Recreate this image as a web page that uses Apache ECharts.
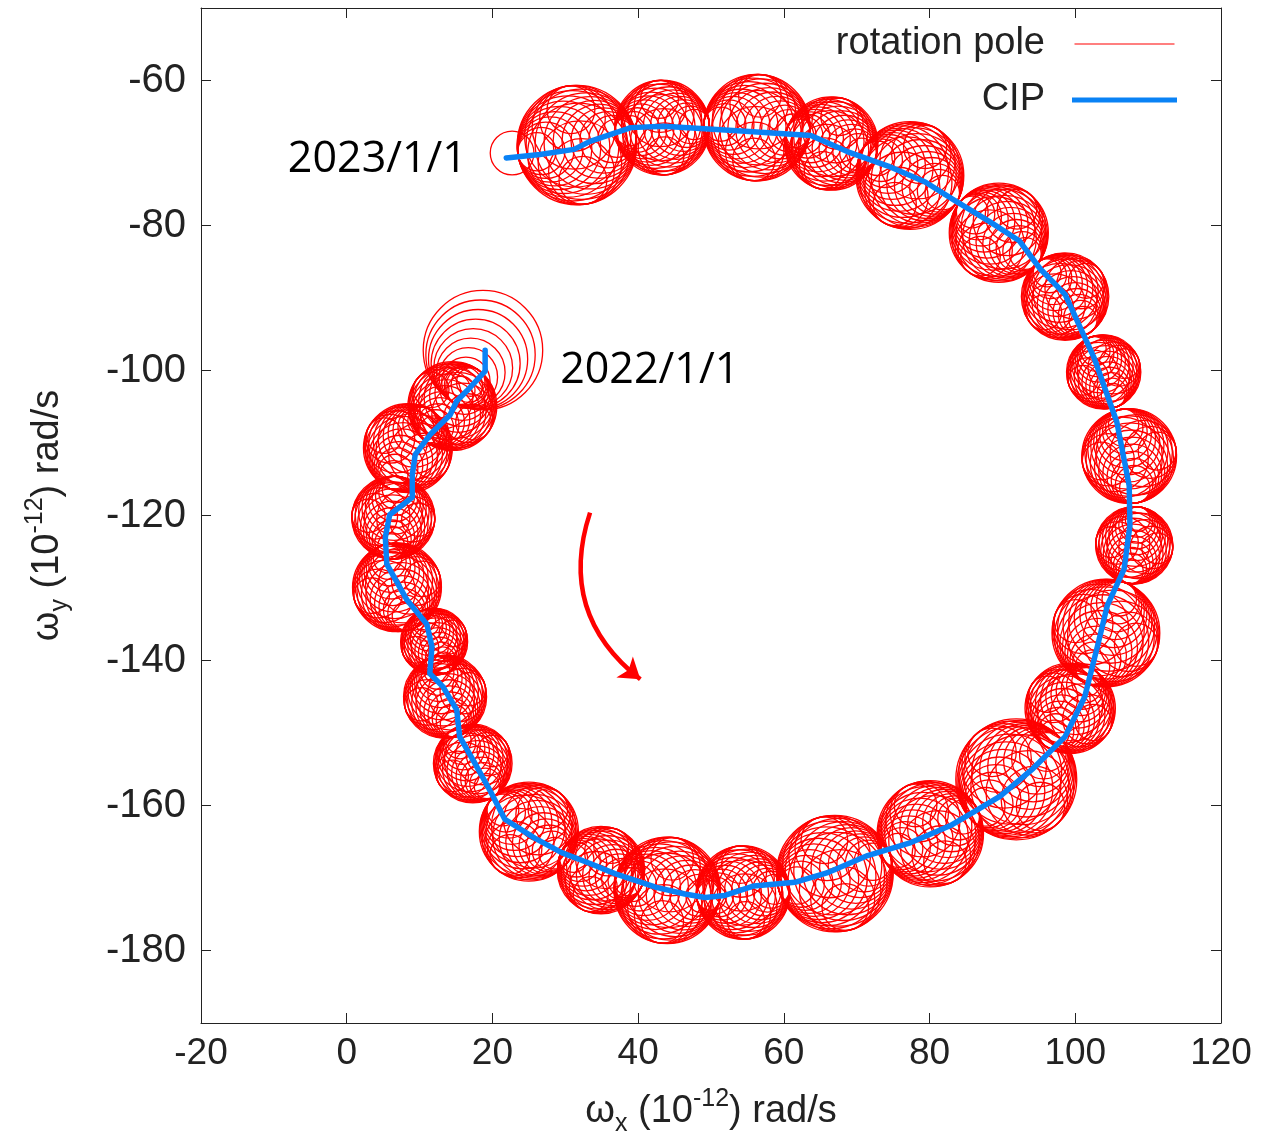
<!DOCTYPE html>
<html>
<head>
<meta charset="utf-8">
<script src="https://cdn.jsdelivr.net/npm/echarts@6/dist/echarts.min.js"></script>
<style>
  html, body { margin: 0; padding: 0; background: #ffffff; }
  #chart { width: 1282px; height: 1142px; }
</style>
</head>
<body>
<div id="chart"></div>
<script>
// Tick values
const xTicks = [-20, 0, 20, 40, 60, 80, 100, 120];
const yTicks = [-180, -160, -140, -120, -100, -80, -60];

// CIP track (10^-12 rad/s), 2022/1/1 -> 2023/1/1
const cipX = [19.0, 19.0, 16.5, 15.1, 14.2, 11.4, 9.4, 9.0, 9.0, 5.9, 5.3, 5.5, 8.3, 11.0, 11.7, 11.4,
  13.2, 15.1, 15.5, 17.6, 19.7, 21.7, 25.8, 29.5, 33.4, 36.8, 42.5, 46.4, 49.2, 51.9, 55.9, 61.5,
  65.9, 71.5, 77.2, 82.8, 86.2, 89.7, 94.2, 98.6, 101.3, 103.1, 104.4, 106.7, 107.5, 107.4, 105.7,
  102.6, 98.6, 95.2, 92.3, 88.3, 83.2, 79.4, 74.3, 68.7, 63.7, 54.7, 43.5, 39.0, 33.4, 31.2, 26.5, 21.9];
const cipY = [-97.2, -100.1, -102.8, -104.2, -106.1, -108.9, -111.6, -114.4, -117.5, -119.9, -123.0,
  -126.7, -131.7, -135.0, -138.1, -141.8, -143.6, -146.8, -150.5, -154.2, -158.0, -161.9, -164.5,
  -166.5, -168.0, -169.4, -171.3, -172.2, -172.7, -172.4, -171.1, -170.6, -169.3, -166.9, -165.2,
  -162.8, -160.8, -158.7, -154.9, -150.5, -145.0, -137.8, -132.4, -127.4, -121.4, -115.9, -107.1,
  -98.3, -89.5, -86.0, -82.1, -79.5, -76.4, -74.0, -71.8, -69.8, -67.6, -67.0, -66.3, -66.5, -68.4,
  -69.5, -70.2, -70.7];

// Rotation pole: envelopes of the diurnal loops (centre x, centre y, radius)
const loopX = [18.7, 14.5, 8.4, 6.4, 6.9, 12.0, 13.5, 17.3, 25.0, 34.9, 44.0, 54.4, 67.0, 80.1, 91.9,
  99.3, 104.2, 108.1, 107.4, 103.9, 98.6, 89.5, 77.3, 66.5, 56.3, 43.3, 31.6, 22.7];
const loopY = [-97.2, -104.9, -110.7, -120.3, -129.9, -137.4, -145.0, -154.2, -163.6, -168.9, -171.7,
  -172.0, -169.4, -163.9, -156.4, -146.6, -136.2, -124.1, -111.8, -100.2, -89.8, -81.0, -73.1, -68.7,
  -66.5, -66.5, -68.9, -70.0];
const loopR = [8.2, 6.1, 6.1, 5.7, 6.1, 4.6, 5.7, 5.4, 6.8, 6.0, 7.3, 6.4, 8.0, 7.3, 8.3, 6.2, 7.4,
  5.3, 6.5, 5.1, 6.0, 6.8, 7.4, 6.4, 7.3, 6.5, 8.2, 3.0];

// Date annotations and rotation-sense arrow
const dateLabels = ['2023/1/1', '2022/1/1'];
const dateAnchors = [[16.5, -70.9], [29.3, -100.0]];
const arrowPath = [[33.4, -119.6], [40.3, -142.6]];

const RED = '#ff0000';
const BLUE = '#0a82f5';
const AXIS = '#222222';
const FONT = '"Liberation Sans", Arial, Helvetica, sans-serif';
const DATE_FONT = '"Open Sans", "Noto Sans", sans-serif';

const cipData = cipX.map((x, i) => [x, cipY[i]]);
const loopData = loopX.map((x, i) => [x, loopY[i], loopR[i]]);

// Each loop envelope is drawn as a bundle of thin circles tangent to it
function renderLoops(params, api) {
  const i = params.dataIndex;
  const n = loopX.length;
  const c = api.coord([api.value(0), api.value(1)]);
  const R = api.size([api.value(2), 0])[0];
  const a = api.coord([loopX[Math.max(0, i - 1)], loopY[Math.max(0, i - 1)]]);
  const b = api.coord([loopX[Math.min(n - 1, i + 1)], loopY[Math.min(n - 1, i + 1)]]);
  let ux = b[0] - a[0], uy = b[1] - a[1];
  const len = Math.hypot(ux, uy) || 1;
  ux /= len; uy /= len;
  const vx = -uy, vy = ux;
  const style = { fill: 'none', stroke: RED, lineWidth: 1.3 };
  const rings = [];
  const ring = (ox, oy, r) => rings.push({
    type: 'circle', shape: { cx: c[0] + ox, cy: c[1] + oy, r: Math.max(r, 0.5) }, style: style
  });
  if (i === n - 1) {
    ring(0, 0, R);
  } else if (i === 0) {
    for (let k = 0; k < 10; k++) {
      const d = (k / 10) * 0.85 * R;
      ring(ux * d, uy * d, R - d);
    }
  } else {
    for (let k = -9; k <= 9; k++) {
      const d = (k / 9) * 0.68 * R;
      ring(ux * d, uy * d, R - Math.abs(d));
    }
    for (let j = -4; j <= 4; j++) {
      if (j === 0) continue;
      const d = (j / 4) * 0.6 * R;
      ring(vx * d, vy * d, R - Math.abs(d));
    }
  }
  return { type: 'group', children: rings };
}

const chart = echarts.init(document.getElementById('chart'), null, { renderer: 'canvas' });

const tickStyle = { show: true, inside: true, length: 10, lineStyle: { color: AXIS, width: 1 } };
const lineStyleAxis = { show: true, onZero: false, lineStyle: { color: AXIS, width: 1 } };

const nameRich = {
  m: { fontFamily: FONT, fontSize: 38, color: AXIS, lineHeight: 50, verticalAlign: 'middle' },
  s: { fontFamily: FONT, fontSize: 25, color: AXIS, lineHeight: 50, verticalAlign: 'bottom' },
  p: { fontFamily: FONT, fontSize: 25, color: AXIS, lineHeight: 50, verticalAlign: 'top' }
};

chart.setOption({
  animation: false,
  backgroundColor: '#ffffff',
  grid: { left: 201, right: 61, top: 8, bottom: 115, containLabel: false },
  xAxis: [{
    type: 'value', min: xTicks[0], max: xTicks[xTicks.length - 1], interval: 20,
    position: 'bottom',
    axisLine: lineStyleAxis, axisTick: tickStyle, splitLine: { show: false },
    axisLabel: { margin: 12, fontFamily: FONT, fontSize: 37, color: AXIS },
    name: '{m|ω}{s|x}{m| (10}{p|-12}{m|) rad/s}',
    nameLocation: 'middle', nameGap: 64,
    nameTextStyle: { rich: nameRich }
  }, {
    type: 'value', min: xTicks[0], max: xTicks[xTicks.length - 1], interval: 20,
    position: 'top',
    axisLine: lineStyleAxis, axisTick: tickStyle, splitLine: { show: false },
    axisLabel: { show: false }
  }],
  yAxis: [{
    type: 'value', min: -190, max: -50,
    position: 'left',
    axisLine: lineStyleAxis,
    axisTick: Object.assign({ customValues: yTicks }, tickStyle),
    splitLine: { show: false },
    axisLabel: { customValues: yTicks, margin: 15, fontFamily: FONT, fontSize: 40, color: AXIS },
    name: '{m|ω}{s|y}{m| (10}{p|-12}{m|) rad/s}',
    nameLocation: 'middle', nameGap: 128, nameRotate: 90,
    nameTextStyle: { rich: nameRich }
  }, {
    type: 'value', min: -190, max: -50,
    position: 'right',
    axisLine: lineStyleAxis,
    axisTick: Object.assign({ customValues: yTicks }, tickStyle),
    splitLine: { show: false },
    axisLabel: { show: false }
  }],
  legend: {
    orient: 'vertical', align: 'right', right: 100, top: 18,
    itemWidth: 105, itemHeight: 5, itemGap: 14,
    selectedMode: false,
    textStyle: { fontFamily: FONT, fontSize: 38, color: AXIS, padding: [0, 22, 0, 0], lineHeight: 42 },
    data: [
      { name: 'rotation pole', icon: 'path://M0,0M0,5M0,1.9H100V3.1H0Z' },
      { name: 'CIP', icon: 'rect' }
    ]
  },
  series: [{
    name: 'rotation pole',
    type: 'custom',
    xAxisIndex: 0, yAxisIndex: 0,
    itemStyle: { color: RED },
    renderItem: renderLoops,
    data: loopData,
    encode: { x: 0, y: 1 },
    silent: true,
    z: 2
  }, {
    name: 'CIP',
    type: 'line',
    xAxisIndex: 0, yAxisIndex: 0,
    data: cipData,
    showSymbol: false, symbol: 'none',
    itemStyle: { color: BLUE },
    lineStyle: { color: BLUE, width: 5.5, join: 'round', cap: 'round' },
    silent: true,
    z: 3
  }, {
    type: 'lines',
    coordinateSystem: 'cartesian2d',
    xAxisIndex: 0, yAxisIndex: 0,
    data: [{ coords: arrowPath }],
    symbol: ['none', 'arrow'],
    symbolSize: [0, 20],
    lineStyle: { color: RED, width: 4.5, curveness: -0.35, opacity: 1 },
    silent: true,
    z: 4
  }]
});

// Date annotations placed in data coordinates
const p0 = chart.convertToPixel({ gridIndex: 0 }, dateAnchors[0]);
const p1 = chart.convertToPixel({ gridIndex: 0 }, dateAnchors[1]);
chart.setOption({
  graphic: [{
    type: 'text', x: p0[0], y: p0[1], z: 10,
    style: { text: dateLabels[0], fontFamily: DATE_FONT, fontSize: 43,
      fill: '#000', align: 'right', verticalAlign: 'middle' }
  }, {
    type: 'text', x: p1[0], y: p1[1], z: 10,
    style: { text: dateLabels[1], fontFamily: DATE_FONT, fontSize: 43,
      fill: '#000', align: 'left', verticalAlign: 'middle' }
  }]
});
</script>
</body>
</html>
